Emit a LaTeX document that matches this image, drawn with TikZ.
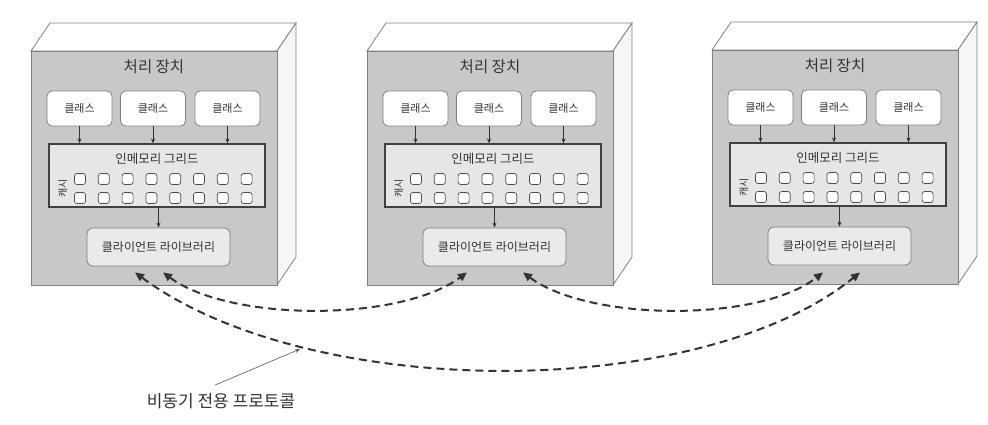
\documentclass[tikz,border=0pt]{standalone}
\usepackage{fontspec}
\setmainfont{Noto Sans CJK KR}
\usetikzlibrary{arrows.meta,calc}
\definecolor{frontgray}{HTML}{C8C8C8}
\definecolor{edgegray}{HTML}{808080}
\definecolor{sidegray}{HTML}{F6F6F6}
\definecolor{gridfill}{HTML}{E6E6E6}
\definecolor{clifill}{HTML}{EAEAEA}
\definecolor{txt}{HTML}{333333}
\definecolor{dashcol}{HTML}{333333}
\tikzset{
  face3d/.style={draw=edgegray, line width=0.8pt, fill=white},
  sideface/.style={draw=edgegray, line width=0.8pt, fill=sidegray},
  frontface/.style={draw=edgegray, line width=1pt, fill=frontgray, inner sep=0pt},
  titletext/.style={text=txt, font=\fontsize{15.5}{17}\selectfont, inner sep=0pt},
  clsbox/.style={draw=edgegray, line width=0.8pt, fill=white, rounded corners=5pt,
     minimum width=65pt, minimum height=35pt, inner sep=0pt, text=txt,
     font=\fontsize{11}{12}\selectfont},
  gridbox/.style={draw=black!75, line width=1.3pt, fill=gridfill, minimum width=216pt,
     minimum height=63pt, inner sep=0pt},
  gridtitle/.style={text=txt, font=\fontsize{12.5}{13}\selectfont, inner sep=0pt},
  cell/.style={draw=black!70, line width=0.7pt, fill=white, rounded corners=2.5pt,
     minimum width=11pt, minimum height=11pt, inner sep=0pt},
  cachelabel/.style={text=txt, font=\fontsize{10}{11}\selectfont, inner sep=0pt, rotate=90},
  clibox/.style={draw=edgegray, line width=0.8pt, fill=clifill, rounded corners=6pt,
     minimum width=143pt, minimum height=38pt, inner sep=0pt, text=txt,
     font=\fontsize{12}{13}\selectfont},
  smallarrow/.style={draw=black!80, line width=0.6pt, -{Stealth[length=5pt,width=4pt]}},
  protoarrow/.style={draw=dashcol, line width=2pt, dash pattern=on 8pt off 5pt,
     {Triangle[length=9pt,width=8pt]}-{Triangle[length=9pt,width=8pt]}},
  annot/.style={draw=black!60, line width=0.7pt, -{Stealth[length=5pt,width=4pt]}},
  prototext/.style={text=txt, font=\fontsize{17}{19}\selectfont, inner sep=0pt}
}
\newcommand{\procunit}[3]{%
  \begin{scope}[shift={(#2,#3)}]
    \draw[face3d] (0,0) -- (19,-28) -- (265,-28) -- (246,0) -- cycle;
    \draw[sideface] (246,0) -- (265,-28) -- (265,206) -- (246,234) -- cycle;
    \node[frontface, minimum width=246pt, minimum height=234pt, anchor=north west] (#1front) at (0,0) {};
    \node[titletext] (#1title) at (123,16) {처리 장치};
    \node[clsbox] (#1c1) at (48.5,57.5) {클래스};
    \node[clsbox] (#1c2) at (122,57.5) {클래스};
    \node[clsbox] (#1c3) at (196.5,57.5) {클래스};
    \node[gridbox] (#1grid) at (126,124.5) {};
    \node[gridtitle] (#1gt) at (126,108) {인메모리 그리드};
    \foreach \i in {0,...,7} {
      \node[cell] (#1ra\i) at ({49+23.8*\i},128) {};
      \node[cell] (#1rb\i) at ({49+23.8*\i},147) {};
    }
    \node[cachelabel] (#1cache) at (32,137.5) {캐시};
    \node[clibox] (#1cli) at (127.5,196) {클라이언트 라이브러리};
    \draw[smallarrow] (#1c1.south) -- (#1c1.south |- #1grid.north);
    \draw[smallarrow] (#1c2.south) -- (#1c2.south |- #1grid.north);
    \draw[smallarrow] (#1c3.south) -- (#1c3.south |- #1grid.north);
    \draw[smallarrow] (#1cli.north |- #1grid.south) -- (#1cli.north);
  \end{scope}
}
\begin{document}
\begin{tikzpicture}[x=1pt,y=-1pt]
  \useasboundingbox (0,0) rectangle (988,424);
  \fill[white] (0,0) rectangle (988,424);
  \procunit{a}{31}{51}
  \procunit{b}{367}{51}
  \procunit{c}{712}{50}
  % asynchronous protocol connectors
  \draw[protoarrow] ([xshift=4.5pt,yshift=-6pt]acli.south) .. controls (230,322) and (400,322) .. ([xshift=-27.5pt,yshift=-6pt]bcli.south);
  \draw[protoarrow] ([xshift=28.5pt,yshift=-6pt]bcli.south) .. controls (590,322) and (760,322) .. ([xshift=-16.5pt,yshift=-7pt]ccli.south);
  \draw[protoarrow] ([xshift=-23.5pt,yshift=-6pt]acli.south) .. controls (310,402) and (700,402) .. ([xshift=20.5pt,yshift=-7pt]ccli.south);
  % label
  \node[prototext] (proto) at (221,401) {비동기 전용 프로토콜};
  \coordinate (annend) at (300,349);
  \draw[annot] ([xshift=-6pt,yshift=8pt]proto.north) -- (annend);
\end{tikzpicture}
\end{document}
